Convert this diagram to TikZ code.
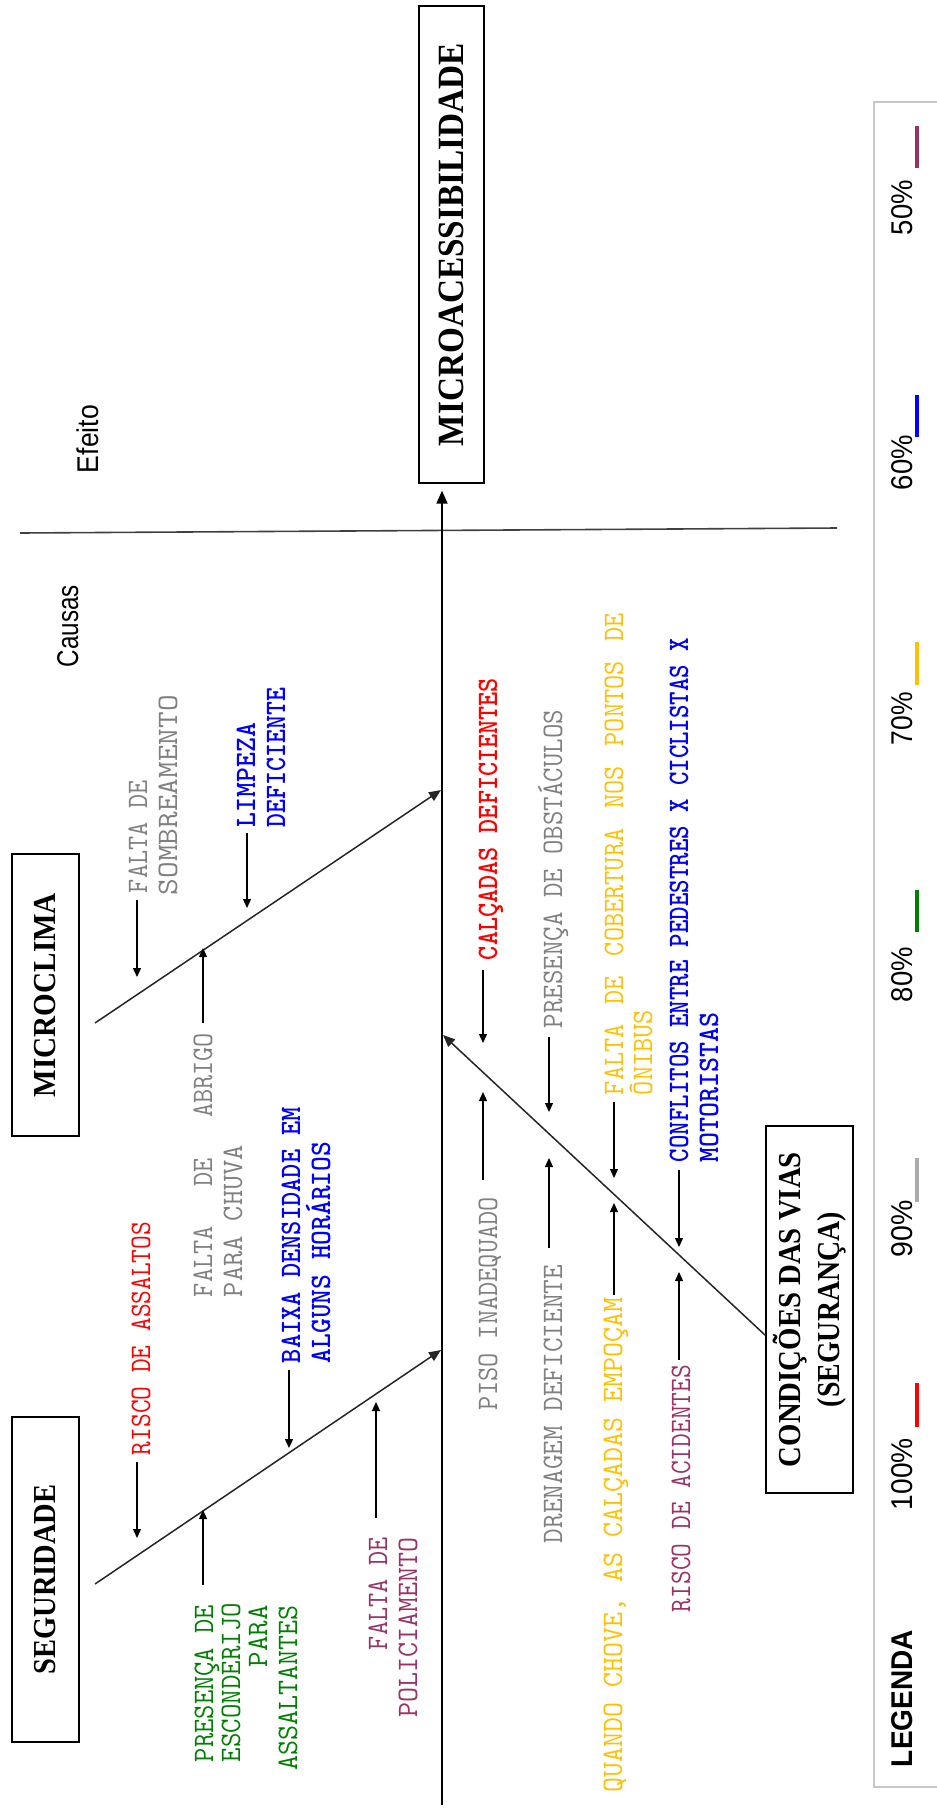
\documentclass[tikz,border=0pt]{standalone}
\usepackage{fontspec}
\usepackage{graphicx}
\setmainfont{Liberation Serif}
\newfontfamily\sansf{Liberation Sans}
\usetikzlibrary{arrows.meta}
\definecolor{cgray}{RGB}{128,128,128}
\definecolor{cgrayl}{RGB}{170,170,170}
\definecolor{cred}{RGB}{255,0,0}
\definecolor{cblue}{RGB}{0,0,255}
\definecolor{cyel}{RGB}{255,192,0}
\definecolor{cgreen}{RGB}{0,128,0}
\definecolor{cpurp}{RGB}{153,51,102}
\newcommand\fl[3][1.08]{\resizebox{#2}{#1\height}{#3}}
\tikzset{
 lab/.style={rotate=90,inner sep=0pt,outer sep=0pt,font=\ttfamily\fontsize{27.5}{32}\selectfont},
 labb/.style={lab,font=\ttfamily\bfseries\fontsize{27.5}{32}\selectfont},
 cbox/.style={draw,line width=1.3pt,rotate=90,inner sep=0pt,align=center,font=\bfseries\fontsize{32}{39}\selectfont},
 sanslab/.style={rotate=90,inner sep=0pt,outer sep=0pt,font=\sansf\fontsize{30}{36}\selectfont},
 arr/.style={line width=1.3pt,-{Triangle[length=9pt,width=8pt]}},
 bone/.style={line width=1.5pt,black!85,-{Triangle[length=12pt,width=10pt]}},
 spine/.style={line width=1.8pt,-{Triangle[length=13pt,width=11pt]}},
 sepline/.style={line width=1.6pt,black!75},
 swatch/.style={line width=4pt},
}
\begin{document}
\begin{tikzpicture}[x=1pt,y=-1pt]
\useasboundingbox (0,0) rectangle (937,1810);
\fill[white] (0,0) rectangle (937,1810);

% separator causes / effect
\draw[sepline] (20,533) -- (837,528);

% boxes
\node[cbox,minimum width=477pt,minimum height=65pt,font=\bfseries\fontsize{37}{44}\selectfont] (effect) at (451.5,244.5) {\fl[1]{403pt}{MICROACESSIBILIDADE}};
\node[cbox,minimum width=282pt,minimum height=67pt] (micro) at (45.5,995) {\fl[1]{204pt}{MICROCLIMA}};
\node[cbox,minimum width=325pt,minimum height=67pt] (segur) at (45.5,1579.5) {\fl[1]{190pt}{SEGURIDADE}};
\node[cbox,minimum width=367pt,minimum height=87pt] (cond) at (809.5,1309.5) {\fl[1]{315pt}{CONDIÇÕES DAS VIAS}\\\fl[1]{195pt}{(SEGURANÇA)}};

% Efeito / Causas
\node[sanslab,anchor=base west] (efeito) at (98,473) {\fl[1]{68pt}{Efeito}};
\node[sanslab,anchor=base west] (causas) at (78,667) {\fl[1]{82pt}{Causas}};

% spine
\coordinate (spB) at (442,1805);
\draw[spine,shorten >=7pt] (spB) -- (spB |- effect.west);

% bones
\coordinate (mcS) at (95,1023); \coordinate (mcE) at (441,790);
\coordinate (sgS) at (95,1584); \coordinate (sgE) at (441,1350);
\coordinate (cvS) at (765,1335); \coordinate (cvE) at (443,1035);
\draw[bone] (mcS) -- (mcE);
\draw[bone] (sgS) -- (sgE);
\draw[bone] (cvS) -- (cvE);

% Microclima labels
\node[lab,text=cgray,anchor=base west] (sombA) at (147,893) {\fl{113pt}{FALTA DE}};
\node[lab,text=cgray,anchor=base west] (sombB) at (177,895) {\fl{200pt}{SOMBREAMENTO}};
\node[labb,text=cblue,anchor=base west] (limpA) at (255,827) {\fl{104pt}{LIMPEZA}};
\node[labb,text=cblue,anchor=base west] (limpB) at (285,827) {\fl{139pt}{DEFICIENTE}};
\node[lab,text=cgray,anchor=base west] (abrA) at (212,1297) {\fl{264pt}{\makebox[264pt][s]{FALTA\hfill DE\hfill ABRIGO}}};
\node[lab,text=cgray,anchor=base west] (abrB) at (242,1297) {\fl{152pt}{PARA CHUVA}};

% Seguridade labels
\node[lab,text=cred,anchor=base west] (assA) at (150,1455) {\fl{233pt}{RISCO DE ASSALTOS}};
\node[labb,text=cblue,anchor=base west] (baixA) at (300,1363) {\fl{256pt}{BAIXA DENSIDADE EM}};
\node[labb,text=cblue,anchor=base west] (baixB) at (330,1363) {\fl{221pt}{ALGUNS HORÁRIOS}};
\node[lab,text=cgreen,anchor=base east] (escA) at (213,1605) {\fl{157pt}{PRESENÇA DE}};
\node[lab,text=cgreen,anchor=base east] (escB) at (240,1603) {\fl{159pt}{ESCONDERIJO}};
\node[lab,text=cgreen,anchor=base east] (escC) at (267,1605) {\fl{62pt}{PARA}};
\node[lab,text=cgreen,anchor=base east] (escD) at (297,1605) {\fl{165pt}{ASSALTANTES}};
\node[lab,text=cpurp,anchor=base east] (polA) at (387,1537) {\fl{113pt}{FALTA DE}};
\node[lab,text=cpurp,anchor=base east] (polB) at (417,1537) {\fl{180pt}{POLICIAMENTO}};

% Condicoes labels
\node[labb,text=cred,anchor=base west] (calc) at (497,960) {\fl{282pt}{CALÇADAS DEFICIENTES}};
\node[lab,text=cgray,anchor=base west] (piso) at (497,1410) {\fl{213pt}{PISO INADEQUADO}};
\node[lab,text=cgray,anchor=base west] (obst) at (562,1028) {\fl{318pt}{PRESENÇA DE OBSTÁCULOS}};
\node[lab,text=cgray,anchor=base west] (dren) at (562,1543) {\fl{278pt}{DRENAGEM DEFICIENTE}};
\node[lab,text=cyel,anchor=base west] (cobA) at (623,1095) {\fl{482pt}{\makebox[482pt][s]{FALTA\hfill DE\hfill COBERTURA\hfill NOS\hfill PONTOS\hfill DE}}};
\node[lab,text=cyel,anchor=base west] (cobB) at (652,1095) {\fl{85pt}{ÔNIBUS}};
\node[lab,text=cyel,anchor=base west] (chov) at (622,1792) {\fl{494pt}{QUANDO CHOVE, AS CALÇADAS EMPOÇAM}};
\node[labb,text=cblue,anchor=base west] (confA) at (688,1162) {\fl{524pt}{CONFLITOS ENTRE PEDESTRES X CICLISTAS X}};
\node[labb,text=cblue,anchor=base west] (confB) at (718,1162) {\fl{150pt}{MOTORISTAS}};
\node[lab,text=cpurp,anchor=base west] (acid) at (690,1612) {\fl{247pt}{RISCO DE ACIDENTES}};

% arrow heads on bones
\coordinate (hSomb) at (137,977);
\coordinate (hLimp) at (247,908);
\coordinate (hAbr) at (203,948);
\coordinate (hAss) at (137,1538);
\coordinate (hBaix) at (289,1448);
\coordinate (hEsc) at (203,1510);
\coordinate (hPol) at (376,1402);
\coordinate (hCalc) at (483,1043);
\coordinate (hPiso) at (483,1092);
\coordinate (hObst) at (549,1112);
\coordinate (hDren) at (549,1158);
\coordinate (hCob) at (614,1178);
\coordinate (hChov) at (614,1203);
\coordinate (hConf) at (679,1247);
\coordinate (hAcid) at (679,1272);

\draw[arr] ([xshift=-10pt,yshift=-7pt]sombA.base west) -- (hSomb);
\draw[arr] ([xshift=-8pt,yshift=-6pt]limpA.base west) -- (hLimp);
\draw[arr] ([xshift=-9pt,yshift=10pt]abrA.base east) -- (hAbr);
\draw[arr] ([xshift=-13pt,yshift=-7pt]assA.base west) -- (hAss);
\draw[arr] ([xshift=-11pt,yshift=-7pt]baixA.base west) -- (hBaix);
\draw[arr] ([xshift=-10pt,yshift=20pt]escA.base east) -- (hEsc);
\draw[arr] ([xshift=-11pt,yshift=19pt]polA.base east) -- (hPol);
\draw[arr] ([xshift=-14pt,yshift=-10pt]calc.base west) -- (hCalc);
\draw[arr] ([xshift=-14pt,yshift=17pt]piso.base east) -- (hPiso);
\draw[arr] ([xshift=-13pt,yshift=-9pt]obst.base west) -- (hObst);
\draw[arr] ([xshift=-13pt,yshift=17pt]dren.base east) -- (hDren);
\draw[arr] ([xshift=-9pt,yshift=-7pt]cobA.base west) -- (hCob);
\draw[arr] ([xshift=-8pt,yshift=3pt]chov.base east) -- (hChov);
\draw[arr] ([xshift=-9pt,yshift=-8pt]confA.base west) -- (hConf);
\draw[arr] ([xshift=-11pt,yshift=5pt]acid.base east) -- (hAcid);

% legend
\draw[line width=2pt,black!22] (945,102) -- (874,102) -- (874,1787) -- (945,1787);
\node[sanslab,font=\sansf\bfseries\fontsize{30}{36}\selectfont,anchor=base west] (leg) at (912,1767) {\fl[1]{137pt}{LEGENDA}};
\node[sanslab,anchor=base west] (p100) at (912,1510) {\fl[1]{72pt}{100\%}};
\node[sanslab,anchor=base west] (p90) at (912,1257) {\fl[1]{57pt}{90\%}};
\node[sanslab,anchor=base west] (p80) at (912,1002) {\fl[1]{55pt}{80\%}};
\node[sanslab,anchor=base west] (p70) at (912,745) {\fl[1]{53pt}{70\%}};
\node[sanslab,anchor=base west] (p60) at (912,490) {\fl[1]{55pt}{60\%}};
\node[sanslab,anchor=base west] (p50) at (912,235) {\fl[1]{55pt}{50\%}};
\draw[swatch,cred] (917,1383) -- (917,1427);
\draw[swatch,cgrayl] (917,1158) -- (917,1202);
\draw[swatch,cgreen] (917,890) -- (917,932);
\draw[swatch,cyel] (917,642) -- (917,685);
\draw[swatch,cblue] (917,395) -- (917,437);
\draw[swatch,cpurp] (917,126) -- (917,168);
\end{tikzpicture}
\end{document}
